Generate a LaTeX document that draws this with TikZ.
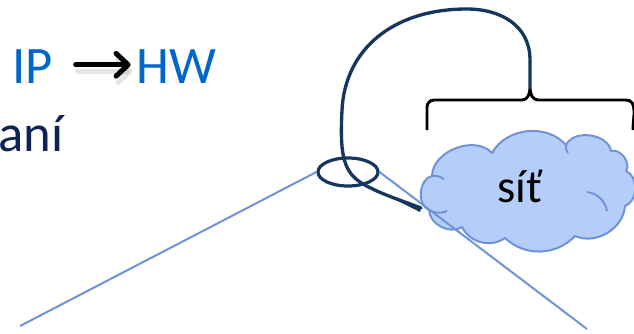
\documentclass[tikz,border=0pt]{standalone}
\usepackage{fontspec}
\setmainfont{Carlito}
\usetikzlibrary{arrows.meta,shapes.geometric}
\definecolor{txtblue}{RGB}{0,102,204}
\definecolor{navy}{RGB}{22,54,96}
\definecolor{darknavy}{RGB}{14,34,88}
\definecolor{cloudfill}{RGB}{181,206,249}
\definecolor{cloudline}{RGB}{112,146,216}
\tikzset{
  bigtext/.style={inner sep=0pt, anchor=base west, font=\fontsize{39.5}{42}\selectfont},
  mapline/.style={draw=cloudline, line width=1.5pt},
  loopline/.style={draw=navy, line width=2.5pt, line cap=round},
  bracestyle/.style={draw=black, line width=2.2pt},
  cloudedge/.style={draw=cloudline, line width=1.5pt, line join=round},
  thinarrow/.style={line width=3.8pt, -{Straight Barb[length=9pt,width=17pt,round]}, line cap=round}
}
\begin{document}
\begin{tikzpicture}[x=0.75pt,y=-0.75pt]
\useasboundingbox (0,0) rectangle (634,333);
\clip (0,0) rectangle (634,333);
% texts
\node[bigtext, text=txtblue] (ip) at (12,83) {IP};
\node[bigtext, text=txtblue] (hw) at (136,83) {HW};
\node[bigtext, text=darknavy] (ani) at (-2,151) {aní};
% arrow with soft shadow
\draw[thinarrow, draw=black!40, opacity=0.25, shorten <=17pt, shorten >=4pt] ([shift={(2,5)}]ip.east) -- ([shift={(2,5)}]hw.west);
\draw[thinarrow, draw=black, shorten <=17pt, shorten >=4pt] ([yshift=1]ip.east) -- ([yshift=1]hw.west);
% cloud
\path[cloudedge, fill=cloudfill]
  (429,210) to[bend left=75] (432,176)
  to[bend left=68] (492,153)
  to[bend left=55] (566,145)
  to[bend left=72] (611,151)
  to[bend left=70] (626,171)
  to[bend left=70] (625,206)
  to[bend left=55] (575,236)
  to[bend left=45] (505,238)
  to[bend left=50] (462,227)
  to[bend left=60] cycle;
\draw[cloudedge] (429,210) to[bend right=25] (447,211);
\draw[cloudedge] (432,176) to[bend left=20] (444,179);
\draw[cloudedge] (587,192) to[bend left=35] (607,211);
\draw[cloudedge] (566,145) to[bend right=25] (568,153);
\node[inner sep=0pt, anchor=base, font=\fontsize{35}{38}\selectfont] (net) at (520,202) {síť};
% brace
\coordinate (bl) at (427,130);
\coordinate (tip) at (530,88);
\coordinate (br) at (633,130);
\draw[bracestyle, line join=round] (bl) -- (427,107) to[out=90,in=180] (434,100) -- (522,100) to[out=0,in=-90] (tip) to[out=-90,in=180] (538,100) -- (626,100) to[out=0,in=90] (br);
% ellipse (zoom)
\node[ellipse, draw=navy, line width=2.4pt, minimum width=45pt, minimum height=21pt, inner sep=0pt] (ell) at (348,172) {};
% zoom lines
\coordinate (lend) at (20,326);
\coordinate (rend) at (587,329);
\draw[mapline] (ell.west) -- (lend);
\draw[mapline] (ell.east) -- (rend);
% loop curve
\coordinate (cend) at (421,208);
\draw[loopline] (tip) -- (530,60) .. controls (530,25) and (500,9) .. (467,9) .. controls (392,9) and (345,50) .. (342,110) .. controls (340,150) and (342,170) .. (360,182) .. controls (375,192) and (400,200) .. (cend);
\fill[navy] (372,188) -- (cend) -- (420,212) -- cycle;
\end{tikzpicture}
\end{document}
